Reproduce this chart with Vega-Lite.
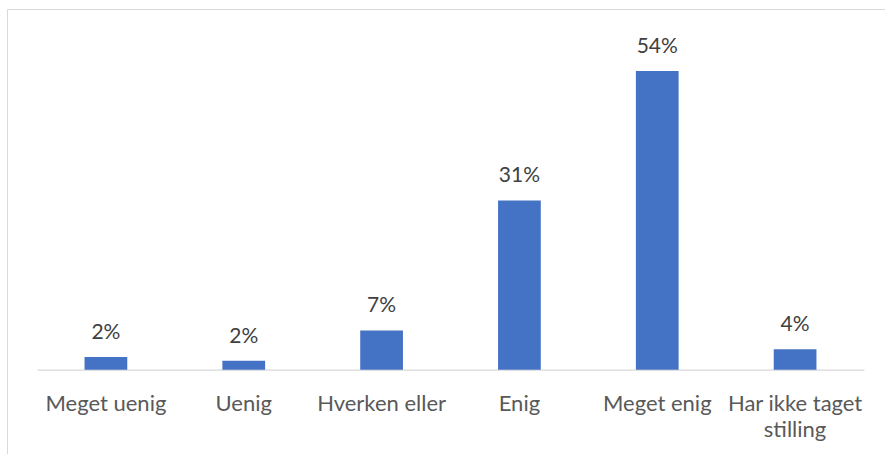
{
  "$schema": "https://vega.github.io/schema/vega-lite/v6.json",
  "autosize": {"type": "none"},
  "padding": {"left": 7, "top": 9, "right": 0, "bottom": 0},
  "width": 878,
  "height": 445,
  "background": "white",
  "config": {"view": {"stroke": "#d9d9d9", "strokeWidth": 1, "strokeDash": [878, 1323, 446, 0]}, "font": "Lato"},
  "data": {
    "values": [
      {"category": "Meget uenig", "share": 0.023},
      {"category": "Uenig", "share": 0.016},
      {"category": "Hverken eller", "share": 0.071},
      {"category": "Enig", "share": 0.306},
      {"category": "Meget enig", "share": 0.54},
      {"category": "Har ikke taget stilling", "share": 0.037}
    ]
  },
  "encoding": {
    "x": {
      "field": "category",
      "type": "nominal",
      "sort": null,
      "scale": {"type": "band", "range": [30, 857], "paddingInner": 0.69, "paddingOuter": 0.345},
      "axis": {
        "title": null,
        "orient": "bottom",
        "offset": -84.3,
        "domainColor": "#d9d9d9",
        "domainWidth": 1.3,
        "ticks": false,
        "tickSize": 0,
        "labelPadding": 41,
        "labelBaseline": "alphabetic",
        "labelFont": "Lato",
        "labelFontSize": 22,
        "labelColor": "#595959",
        "labelAngle": 0,
        "labelLineHeight": 26,
        "labelLimit": 300,
        "labelExpr": "datum.label == 'Har ikke taget stilling' ? ['Har ikke taget', 'stilling'] : datum.label"
      }
    },
    "y": {
      "field": "share",
      "type": "quantitative",
      "scale": {"domain": [0, 0.6], "range": [360.7, 28.8], "nice": false, "zero": true},
      "axis": null
    }
  },
  "layer": [
    {"mark": {"type": "bar", "color": "#4472C4"}},
    {
      "mark": {"type": "text", "baseline": "alphabetic", "dy": -18, "fontSize": 21, "color": "#404040", "font": "Lato"},
      "encoding": {"text": {"field": "share", "type": "quantitative", "format": ".0%"}}
    }
  ]
}
